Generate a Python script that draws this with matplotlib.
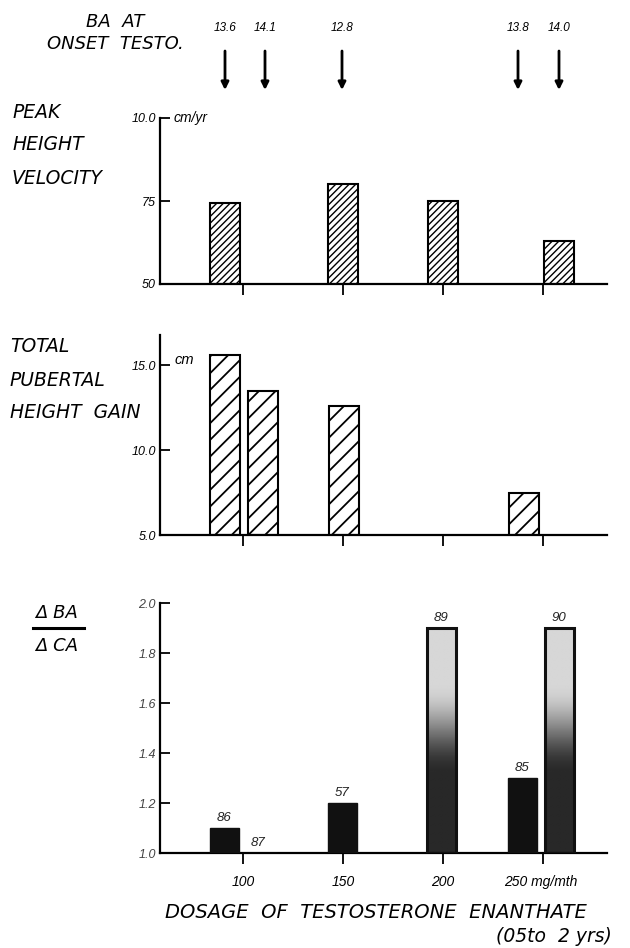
import numpy as np
import matplotlib
matplotlib.use('Agg')
import matplotlib.pyplot as plt

plt.rcParams['font.family'] = ['Liberation Sans', 'DejaVu Sans']
plt.rcParams['font.style'] = 'italic'

# ---- data
dose_ticks = [100, 150, 200, 250]
dose_ticklabels = ['100', '150', '200', '']

# bone age at onset of testosterone (arrows at top)
ba_x = [91, 111, 149.5, 237.5, 258]
ba_labels = ['13.6', '14.1', '12.8', '13.8', '14.0']

# peak height velocity, cm/yr
phv_x = [91, 150, 200, 258]
phv_val = [7.45, 8.0, 7.5, 6.3]

# total pubertal height gain, cm
gain_x = [91, 110, 150.5, 240.5]
gain_val = [15.6, 13.45, 12.6, 7.45]

# delta BA / delta CA
ratio_x = [90.5, 109.5, 149.5, 199, 239.5, 258]
ratio_val = [1.10, 1.00, 1.20, 1.90, 1.30, 1.90]
ratio_labels = ['86', '87', '57', '89', '85', '90']
ratio_fill = ['solid', 'solid', 'solid', 'grad', 'solid', 'grad']

W, H = 630, 948
fig = plt.figure(figsize=(W / 100, H / 100), dpi=100)
big = ['DejaVu Sans']

def px_axes(x0, x1, ytop, ybot):
    return fig.add_axes([x0 / W, 1 - ybot / H, (x1 - x0) / W, (ybot - ytop) / H])

def fy(y):
    return 1 - y / H

xlim = (58.5, 282)

def style_axes(ax):
    for s in ['top', 'right']:
        ax.spines[s].set_visible(False)
    for s in ['left', 'bottom']:
        ax.spines[s].set_linewidth(1.6)
    ax.set_xlim(*xlim)
    ax.set_xticks(dose_ticks)
    ax.tick_params(axis='x', direction='out', length=8, width=1.3, labelsize=10, pad=8)
    ax.tick_params(axis='y', direction='in', length=7, width=1.3, labelsize=9, pad=3)

# ---------- panel 1: peak height velocity
plt.rcParams['hatch.linewidth'] = 1.0
ax1 = px_axes(160, 607, 118, 284)
style_axes(ax1)
ax1.set_ylim(5, 10)
ax1.bar(phv_x, np.array(phv_val) - 5, bottom=5, width=15, facecolor='white',
        edgecolor='black', linewidth=1.5, hatch='/////')
ax1.set_yticks([5, 7.5, 10])
ax1.set_yticklabels(['50', '75', '10.0'])
ax1.set_xticklabels([])
ax1.text(65.5, 10.0, 'cm/yr', fontsize=10, va='center', ha='left')

# ---------- panel 2: total pubertal height gain
plt.rcParams['hatch.linewidth'] = 1.3
ax2 = px_axes(160, 607, 335, 535)
style_axes(ax2)
ax2.set_ylim(5, 5 + 200 / 17)
ax2.bar(gain_x, np.array(gain_val) - 5, bottom=5, width=15, facecolor='white',
        edgecolor='black', linewidth=1.5, hatch='//')
ax2.set_yticks([5, 10, 15])
ax2.set_yticklabels(['5.0', '10.0', '15.0'])
ax2.set_xticklabels([])
ax2.text(66, 14.9, 'cm', fontsize=10.5, va='bottom', ha='left')

# ---------- panel 3: delta BA / delta CA
ax3 = px_axes(160, 607, 603, 853)
style_axes(ax3)
ax3.set_ylim(1.0, 2.0)
w3 = 14.5
t = np.linspace(0, 1, 200)
for x, v, lab, f in zip(ratio_x, ratio_val, ratio_labels, ratio_fill):
    if f == 'grad':
        s = np.clip((t - 0.25) / 0.4, 0, 1)
        g = 0.84 - 0.68 * (s * s * (3 - 2 * s))
        ax3.imshow(g[:, None], cmap='gray', vmin=0, vmax=1, aspect='auto',
                   extent=[x - w3 / 2, x + w3 / 2, 1.0, v], zorder=2)
        ax3.bar(x, v - 1.0, bottom=1.0, width=w3, facecolor='none',
                edgecolor='#111111', linewidth=2.2, zorder=3)
    else:
        ax3.bar(x, v - 1.0, bottom=1.0, width=w3, facecolor='#111111',
                edgecolor='#111111', linewidth=1, zorder=3)
    dx = -3 if v <= 1.0 else 0
    ax3.annotate(lab, xy=(x, v), xytext=(dx, 3), textcoords='offset points',
                 ha='center', va='bottom', fontsize=9.5, color='#222222')
ax3.set_xlim(*xlim)
ax3.set_ylim(1.0, 2.0)
ax3.set_yticks([1.0, 1.2, 1.4, 1.6, 1.8, 2.0])
ax3.set_yticklabels(['1.0', '1.2', '1.4', '1.6', '1.8', '2.0'], color='#444444')
ax3.set_xticklabels(dose_ticklabels)
ax3.annotate('250 mg/mth', xy=(230.5, 1.0), xytext=(0, -16),
             textcoords='offset points', ha='left', va='top', fontsize=10)

# ---------- arrows for bone age at onset
for x, lab in zip(ba_x, ba_labels):
    ax1.annotate('', xy=(x, fy(90)), xytext=(x, fy(51)),
                 xycoords=('data', 'figure fraction'),
                 textcoords=('data', 'figure fraction'),
                 arrowprops=dict(arrowstyle='-|>', lw=2, color='black',
                                 mutation_scale=11, shrinkA=0, shrinkB=0),
                 annotation_clip=False)
    ax1.annotate(lab, xy=(x, fy(28)), xycoords=('data', 'figure fraction'),
                 ha='center', va='center', fontsize=8.5, annotation_clip=False)

# ---------- free text
fig.text(115 / W, fy(22), 'BA  AT', fontsize=13, ha='center', va='center', family=big)
fig.text(115 / W, fy(44), 'ONSET  TESTO.', fontsize=13, ha='center', va='center', family=big)

for txt, y in [('PEAK', 112), ('HEIGHT', 145), ('VELOCITY', 178)]:
    fig.text(12 / W, fy(y), txt, fontsize=13.5, ha='left', va='center', family=big)
for txt, y in [('TOTAL', 347), ('PUBERTAL', 380), ('HEIGHT  GAIN', 413)]:
    fig.text(10 / W, fy(y), txt, fontsize=13.5, ha='left', va='center', family=big)

fig.text(35 / W, fy(613), '\u0394 BA', fontsize=13, ha='left', va='center', family=big)
fig.add_artist(plt.Line2D([33 / W, 84 / W], [fy(628), fy(628)], color='black', lw=2.2))
fig.text(35 / W, fy(646), '\u0394 CA', fontsize=13, ha='left', va='center', family=big)

fig.text(376 / W, fy(913), 'DOSAGE  OF  TESTOSTERONE  ENANTHATE', fontsize=14,
         ha='center', va='center', family=big)
fig.text(612 / W, fy(936), '(05to  2 yrs)', fontsize=13.5, ha='right', va='center', family=big)

fig.savefig('out.png', dpi=100)
